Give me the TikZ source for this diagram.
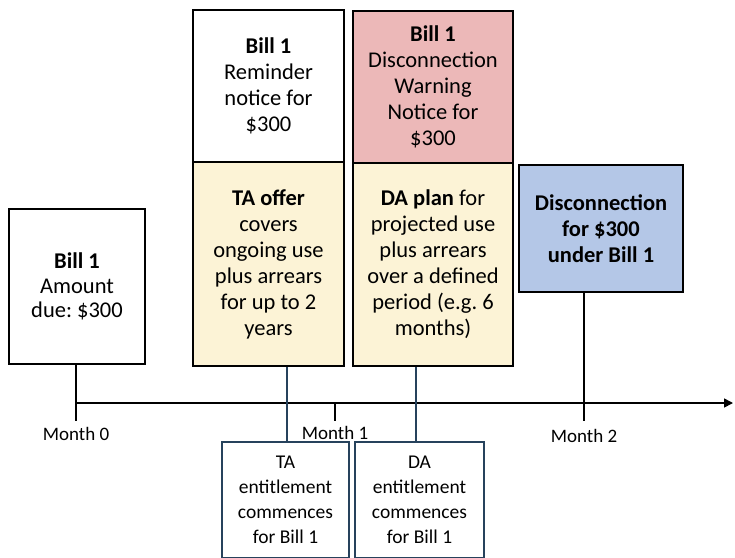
\documentclass[tikz,border=0pt]{standalone}
\usepackage{fontspec}
\setmainfont{Carlito}
\frenchspacing
\usetikzlibrary{arrows.meta}
\definecolor{warnpink}{RGB}{236,184,184}
\definecolor{offercream}{RGB}{252,243,214}
\definecolor{discblue}{RGB}{180,199,231}
\definecolor{entline}{RGB}{38,66,92}
\begin{document}
\begin{tikzpicture}[x=1pt,y=-1pt,
  box/.style={draw=black,line width=1.8pt,align=center,inner sep=0pt,
    font=\fontsize{22.5}{26}\selectfont},
  entbox/.style={draw=entline,line width=1.4pt,align=center,inner sep=0pt,
    font=\fontsize{19.5}{25}\selectfont},
  link/.style={line width=1.6pt},
  entlink/.style={draw=entline,line width=2pt},
  monthlabel/.style={font=\fontsize{19}{23}\selectfont,inner sep=0pt}]
\useasboundingbox (0,0) rectangle (735,557);

% event boxes above the time line
\node[box,minimum width=136,minimum height=155,
  font=\fontsize{22.5}{24.5}\selectfont] (bill) at (77,286.5)
  {\textbf{Bill 1}\\Amount\\due: \$300};
\node[box,fill=white,minimum width=151,minimum height=152] (remind) at (268.5,86)
  {\textbf{Bill 1}\\Reminder\\notice for\\\$300};
\node[box,fill=offercream,minimum width=151,minimum height=204] (ta) at (268.5,264)
  {\textbf{TA offer}\\covers\\ongoing use\\plus arrears\\for up to 2\\years};
\node[box,fill=warnpink,minimum width=160,minimum height=152] (warn) at (433,87)
  {\textbf{Bill 1}\\Disconnection\\Warning\\Notice for\\\$300};
\node[box,fill=offercream,minimum width=160,minimum height=203] (da) at (433,264.5)
  {\textbf{DA plan} for\\projected use\\plus arrears\\over a defined\\period (e.g. 6\\months)};
\node[box,fill=discblue,minimum width=164,minimum height=127] (disc) at (601,228.5)
  {\textbf{Disconnection}\\\textbf{for \$300}\\\textbf{under Bill 1}};

% entitlement boxes below the time line
\node[entbox,minimum width=127,minimum height=116] (taent) at (285.5,500)
  {TA\\entitlement\\commences\\for Bill 1};
\node[entbox,minimum width=129,minimum height=116] (daent) at (419.5,500)
  {DA\\entitlement\\commences\\for Bill 1};

% time line
\coordinate (t0) at (76,403);
\coordinate (tend) at (733,403);
\draw[link,-{Triangle[length=9pt,width=9pt]}] (t0) -- (tend);

% month ticks and labels
\coordinate (m0) at (76,421);
\coordinate (m1a) at (335,403);
\coordinate (m1b) at (335,421);
\coordinate (m2) at (584,421);
\draw[link] (bill.south -| m0) -- (m0);
\draw[link] (m1a) -- (m1b);
\draw[link] (disc.south -| m2) -- (m2);
\node[monthlabel] (l0) at (76,434) {Month 0};
\node[monthlabel] (l1) at (335,433) {Month 1};
\node[monthlabel] (l2) at (584,436) {Month 2};

% links from the offers to their entitlements
\draw[entlink] ([xshift=1.5pt]taent.north) -- ([xshift=1.5pt]taent.north |- ta.south);
\draw[entlink] ([xshift=-3.5pt]daent.north) -- ([xshift=-3.5pt]daent.north |- da.south);
\end{tikzpicture}
\end{document}
